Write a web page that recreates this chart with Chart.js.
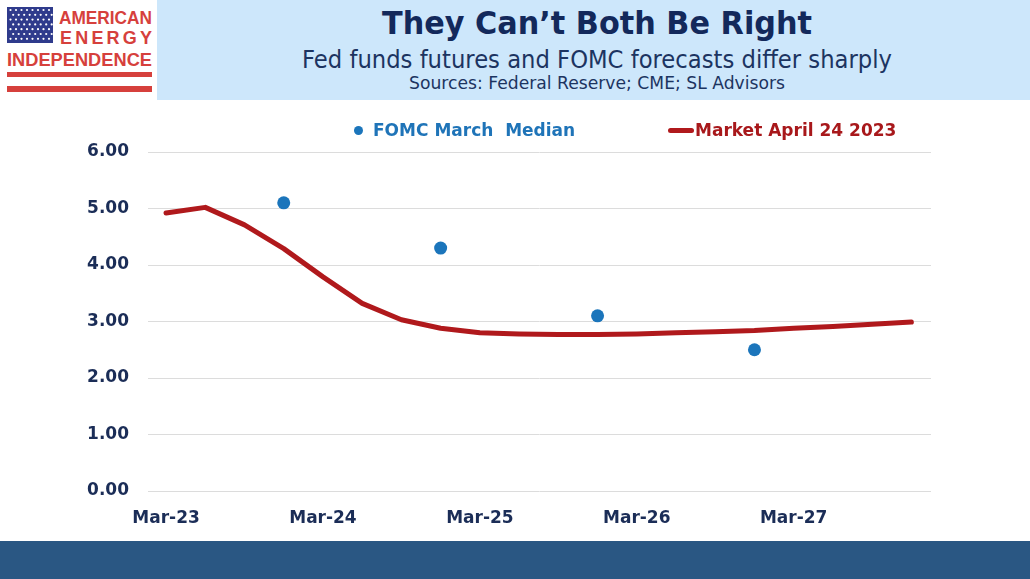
<!DOCTYPE html>
<html>
<head>
<meta charset="utf-8">
<script src="https://cdn.jsdelivr.net/npm/chart.js@4.4.0/dist/chart.umd.min.js"></script>
<style>
  body { margin: 0; width: 1030px; height: 579px; background: #fff; position: relative; overflow: hidden; font-family: "DejaVu Sans", Verdana, sans-serif; }
  #logo { position: absolute; left: 0; top: 0; }
  #header { position: absolute; left: 157px; top: 0; width: 873px; height: 100px; background: #cde7fb; }
  #headerText { position: absolute; left: 0; top: 0; }
  #chartWrap { position: absolute; left: 0; top: 100px; width: 1030px; height: 441px; }
  #footer { position: absolute; left: 0; top: 541px; width: 1030px; height: 38px; background: #2a5783; }
  .legend { position: absolute; top: 119px; font: bold 17px "DejaVu Sans", Verdana, sans-serif; white-space: pre; line-height: 22px; }
  .dot { position: absolute; width: 9px; height: 9px; border-radius: 50%; background: #1b75bb; }
  .bar { position: absolute; height: 5px; border-radius: 3px; background: #b0191c; }
</style>
</head>
<body>
<svg id="logo" width="157" height="100">
  <rect x="0" y="0" width="157" height="100" fill="#fff"/>
  <rect x="7" y="7" width="46" height="36" fill="#2f3b8c"/>
  <g id="stars" fill="#fff"></g>
  <text x="59" y="24" font-family="Liberation Sans, Arial, sans-serif" font-weight="bold" font-size="18" fill="#d6403c" textLength="93" lengthAdjust="spacingAndGlyphs">AMERICAN</text>
  <text x="60" y="44" font-family="Liberation Sans, Arial, sans-serif" font-weight="bold" font-size="18" fill="#d6403c" textLength="92" lengthAdjust="spacing">ENERGY</text>
  <text x="7" y="66" font-family="Liberation Sans, Arial, sans-serif" font-weight="bold" font-size="19" fill="#d6403c" textLength="145" lengthAdjust="spacingAndGlyphs">INDEPENDENCE</text>
  <rect x="7" y="72" width="145" height="5" fill="#d6403c"/>
  <rect x="7" y="86" width="145" height="6" fill="#d6403c"/>
</svg>

<div id="header">
  <svg id="headerText" width="873" height="100">
    <text x="440" y="34" text-anchor="middle" font-family="DejaVu Sans, Verdana, sans-serif" font-weight="bold" font-size="32" fill="#13295b" textLength="430" lengthAdjust="spacingAndGlyphs">They Can’t Both Be Right</text>
    <text x="440" y="68" text-anchor="middle" font-family="DejaVu Sans, Verdana, sans-serif" font-size="25" fill="#1c3461" textLength="590" lengthAdjust="spacingAndGlyphs">Fed funds futures and FOMC forecasts differ sharply</text>
    <text x="440" y="89" text-anchor="middle" font-family="DejaVu Sans, Verdana, sans-serif" font-size="17" fill="#1c3461" textLength="376" lengthAdjust="spacingAndGlyphs">Sources: Federal Reserve; CME; SL Advisors</text>
  </svg>
</div>

<div id="chartWrap"><canvas id="rateChart"></canvas></div>

<div class="dot" style="left:354px; top:126px;"></div>
<div class="legend" style="left:373px; color:#1f74b8;">FOMC March  Median</div>
<div class="bar" style="left:668px; top:128px; width:26px;"></div>
<div class="legend" style="left:695px; color:#a8181b;">Market April 24 2023</div>

<div id="footer"></div>

<script>
// quarterly points, Mar-23 .. Dec-27
const quarterLabels = [
    'Mar-23', 'Jun-23', 'Sep-23', 'Dec-23',
    'Mar-24', 'Jun-24', 'Sep-24', 'Dec-24',
    'Mar-25', 'Jun-25', 'Sep-25', 'Dec-25',
    'Mar-26', 'Jun-26', 'Sep-26', 'Dec-26',
    'Mar-27', 'Jun-27', 'Sep-27', 'Dec-27'
];
const marketValues = [
    4.92, 5.02, 4.71, 4.29,
    3.79, 3.32, 3.03, 2.88,
    2.80, 2.78, 2.77, 2.77,
    2.78, 2.80, 2.82, 2.84,
    2.88, 2.91, 2.95, 2.99
];
// FOMC March median dots sit at year-end quarters
const fomcQuarters = ['Dec-23', 'Dec-24', 'Dec-25', 'Dec-26'];
const fomcValues = [5.1, 4.3, 3.1, 2.5];
const xTickLabels = ['Mar-23', 'Mar-24', 'Mar-25', 'Mar-26', 'Mar-27'];
const yTicks = [0, 1, 2, 3, 4, 5, 6];

// stars on the little flag
const stars = document.getElementById('stars');
for (let r = 0; r < 7; r++) {
    for (let c = 0; c < 8; c++) {
        const dot = document.createElementNS('http://www.w3.org/2000/svg', 'circle');
        dot.setAttribute('cx', 10.5 + c * 5.5 + (r % 2 ? 2.7 : 0));
        dot.setAttribute('cy', 10 + r * 4.8);
        dot.setAttribute('r', 1.1);
        stars.appendChild(dot);
    }
}

const axisFont = { family: '"DejaVu Sans", Verdana, sans-serif', size: 17, weight: 'bold' };
const axisColor = '#1b2d57';

const marketData = marketValues.map((v, i) => ({ x: i, y: v }));
const fomcData = fomcValues.map((v, i) => ({ x: quarterLabels.indexOf(fomcQuarters[i]), y: v }));

new Chart(document.getElementById('rateChart'), {
    type: 'line',
    data: {
        datasets: [{
            label: 'FOMC March  Median',
            data: fomcData,
            showLine: false,
            pointRadius: 6.5,
            pointHoverRadius: 6.5,
            pointBackgroundColor: '#1b75bb',
            pointBorderWidth: 0
        }, {
            label: 'Market April 24 2023',
            data: marketData,
            borderColor: '#b0191c',
            borderWidth: 5,
            borderCapStyle: 'round',
            borderJoinStyle: 'round',
            tension: 0,
            pointRadius: 0,
            fill: false
        }]
    },
    options: {
        responsive: true,
        maintainAspectRatio: false,
        animation: false,
        layout: { padding: { left: 0, right: 99, top: 52, bottom: 0 } },
        plugins: {
            legend: { display: false },
            tooltip: { enabled: false }
        },
        scales: {
            x: {
                type: 'linear',
                min: -0.46,
                max: 19.5,
                afterBuildTicks: function(scale) {
                    scale.ticks = xTickLabels.map(l => ({ value: quarterLabels.indexOf(l) }));
                },
                afterFit: function(scale) { scale.height = 50; },
                grid: { display: false, drawTicks: false },
                border: { display: false },
                ticks: {
                    autoSkip: false,
                    maxRotation: 0,
                    padding: 17,
                    color: axisColor,
                    font: axisFont,
                    callback: v => quarterLabels[v]
                }
            },
            y: {
                min: 0,
                max: 6,
                afterBuildTicks: function(scale) {
                    scale.ticks = yTicks.map(v => ({ value: v }));
                },
                afterFit: function(scale) { scale.width = 148; },
                grid: { color: '#dcdcdc', lineWidth: 1, drawTicks: false },
                border: { display: false },
                ticks: {
                    padding: 19,
                    color: axisColor,
                    font: axisFont,
                    callback: v => v.toFixed(2)
                }
            }
        }
    }
});
</script>
</body>
</html>
